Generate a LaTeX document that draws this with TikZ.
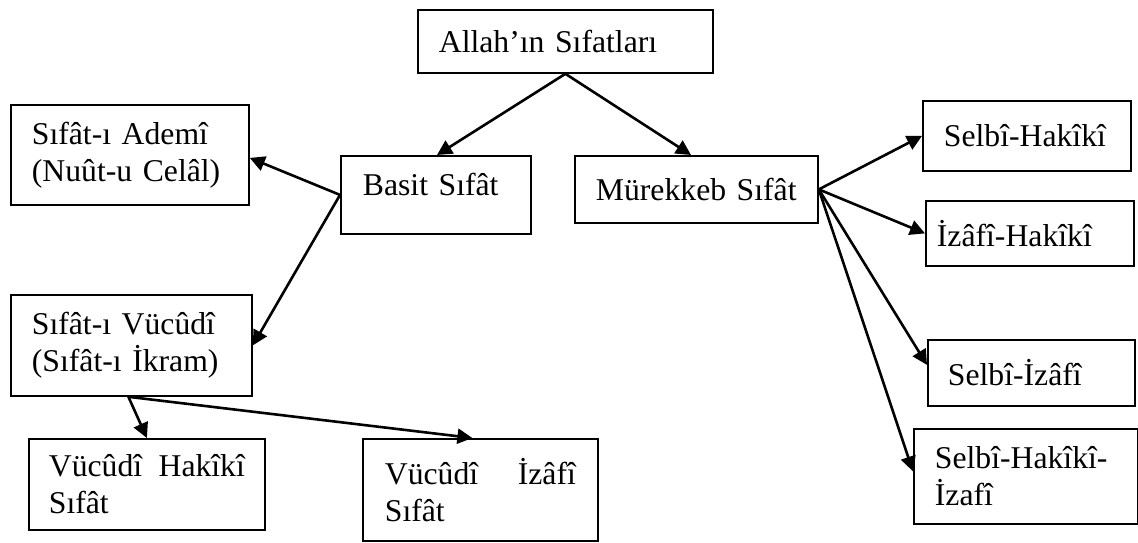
\documentclass[tikz,border=0pt]{standalone}
\usepackage{fontspec}
\setmainfont{Liberation Serif}
\usetikzlibrary{arrows.meta,calc}
\exhyphenpenalty=10000
\hyphenpenalty=10000

\begin{document}
\begin{tikzpicture}[
    x=1pt, y=-1pt,
    every node/.style={
        font=\fontsize{31.7}{37}\selectfont,
    },
    box/.style={
        draw, line width=1.8pt, anchor=north west, align=left,
        inner xsep=21pt, inner ysep=0pt,
    },
    arr/.style={-{Triangle[length=15pt,width=15pt]}, line width=2.6pt},
]
    \useasboundingbox (0,0) rectangle (1138,543);
    % top
    \node[box, text width=253pt, minimum height=63pt] (allah) at (417,9) {Allah’ın Sıfatları};
    \node[box, inner xsep=22pt, text width=146pt, text height=40pt, text depth=38pt] (basit) at (340,155) {Basit Sıfât};
    \node[box, text width=201pt, minimum height=67pt] (murekkeb) at (574,155) {Mürekkeb Sıfât};
    % left side
    \node[box, text width=196pt, minimum height=100pt] (ademi) at (10,104) {Sıfât-ı Ademî\\(Nuût-u Celâl)};
    \node[box, text width=199pt, minimum height=101pt] (vucudi) at (10,294) {Sıfât-ı Vücûdî\\(Sıfât-ı İkram)};
    \node[box, inner xsep=20pt, text width=196pt, minimum height=91pt] (vhakiki) at (28,438) {Vücûdî\hfill Hakîkî\\Sıfât};
    \node[box, inner xsep=22pt, text width=191pt, minimum height=102pt] (vizafi) at (362,438) {Vücûdî\hfill İzâfî\\Sıfât\\[10pt]};
    % right side
    \node[box, text width=166pt, minimum height=70pt] (shakiki) at (922,100) {Selbî-Hakîkî};
    \node[box, inner xsep=11pt, text width=186pt, minimum height=65pt] (ihakiki) at (925,200) {İzâfî-Hakîkî};
    \node[box, inner xsep=20pt, text width=167pt, minimum height=66pt] (sizafi) at (927,339) {Selbî-İzâfî};
    \node[box, text width=182pt, minimum height=95pt] (shizafi) at (913,428) {Selbî-Hakîkî-\\İzafî};
    % arrows
    \draw[arr] (allah.south) -- ($(basit.north west)+(97,0)$);
    \draw[arr] (allah.south) -- ($(murekkeb.north west)+(117,0)$);
    \draw[arr] (basit.west) -- ($(ademi.east)+(0,3)$);
    \draw[arr] (basit.west) -- (vucudi.east);
    \draw[arr] ($(vucudi.south)+(-3,0)$) -- (vhakiki.north);
    \draw[arr] ($(vucudi.south)+(-3,0)$) -- ($(vizafi.north)+(-8,0)$);
    \draw[arr] (murekkeb.east) -- (shakiki.west);
    \draw[arr] (murekkeb.east) -- (ihakiki.west);
    \draw[arr] (murekkeb.east) -- ($(sizafi.west)+(0,-8)$);
    \draw[arr] (murekkeb.east) -- ($(shizafi.west)+(0,-5)$);
\end{tikzpicture}
\end{document}
